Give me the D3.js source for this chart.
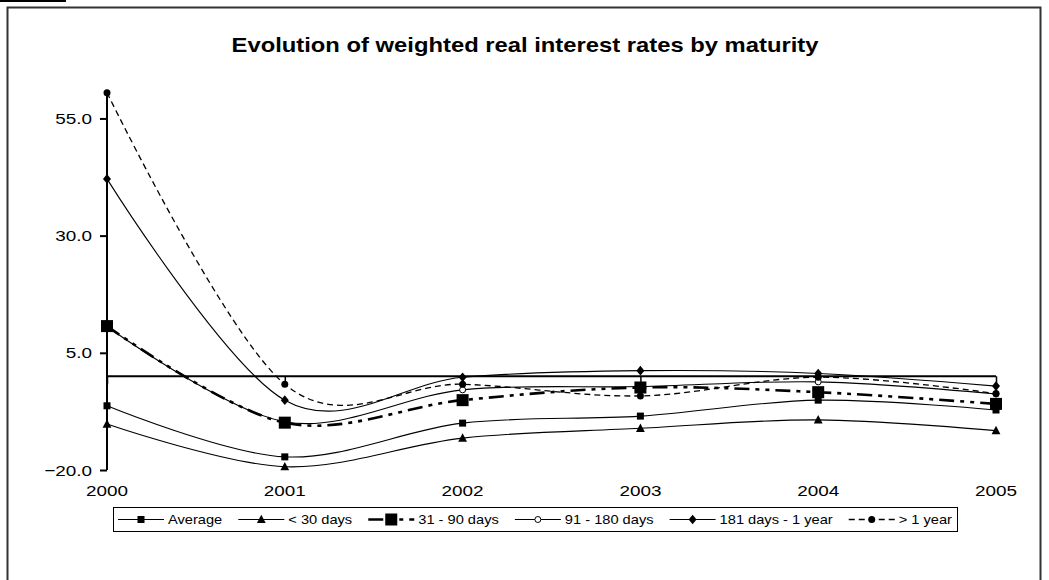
<!DOCTYPE html>
<html>
<head>
<meta charset="utf-8">
<script src="https://cdn.jsdelivr.net/npm/d3@7"></script>
<style>
  html, body { margin: 0; padding: 0; background: #fff; }
  svg { display: block; font-family: "Liberation Sans", Arial, sans-serif; }
</style>
</head>
<body>
<svg id="chart" width="1049" height="580"></svg>
<script>
// Weighted real interest rates (%) by maturity bucket
const years = ["2000", "2001", "2002", "2003", "2004", "2005"];
const average   = [-6.3, -17.2, -10.0, -8.5, -5.1, -7.2];
const under30   = [-10.2, -19.3, -13.2, -11.1, -9.3, -11.6];
const d31to90   = [10.7, -9.9, -5.1, -2.4, -3.4, -5.9];
const d91to180  = [10.6, -9.7, -2.9, -2.2, -1.2, -3.8];
const d181to1y  = [42.1, -5.1, -0.2, 1.2, 0.6, -2.1];
const over1y    = [60.5, -1.7, -1.7, -4.2, -0.2, -3.7];
const yTicks    = [-20, 5, 30, 55];
const seriesNames = ["Average", "< 30 days", "31 - 90 days", "91 - 180 days", "181 days - 1 year", "> 1 year"];

const title = "Evolution of weighted real interest rates by maturity";

const series = [
  { name: seriesNames[0], values: average,  width: 1.1, dash: null,           marker: "square",     size: 7,  z: 1 },
  { name: seriesNames[1], values: under30,  width: 1.1, dash: null,           marker: "triangle",   size: 8,  z: 1 },
  { name: seriesNames[2], values: d31to90,  width: 2.6, dash: "15,6,4,6,4,6", marker: "square",     size: 12, z: 2 },
  { name: seriesNames[3], values: d91to180, width: 1.1, dash: null,           marker: "circleOpen", size: 7,  z: 0 },
  { name: seriesNames[4], values: d181to1y, width: 1.1, dash: null,           marker: "diamond",    size: 8,  z: 1 },
  { name: seriesNames[5], values: over1y,   width: 1.3, dash: "6,4",          marker: "circle",     size: 7,  z: 1 }
];

// text is drawn slightly wide, matching the stretched typography of the chart
const STRETCH = 1.22;
function label(parent, x, y, str, size, anchor, weight) {
  return parent.append("text")
    .attr("transform", `translate(${x},${y}) scale(${STRETCH},1)`)
    .attr("text-anchor", anchor || "start")
    .attr("font-size", size)
    .attr("font-weight", weight || "normal")
    .attr("fill", "#000")
    .text(str);
}

const svg = d3.select("#chart");

// outer frame
svg.append("rect").attr("x", 0).attr("y", 0).attr("width", 66).attr("height", 2).attr("fill", "#000");
svg.append("rect").attr("x", 7.5).attr("y", 7.5).attr("width", 1033).attr("height", 600)
  .attr("fill", "none").attr("stroke", "#333").attr("stroke-width", 2);

label(svg, 525, 52, title, 19.5, "middle", "bold");

const x = d3.scalePoint().domain(years).range([107, 996]);
const y = d3.scaleLinear().domain([-20, 60]).range([470, 95]);

// value axis
const yAxis = d3.axisLeft(y).tickValues(yTicks).tickSize(7).tickFormat("");
const gy = svg.append("g").attr("transform", `translate(${x("2000")},0)`).call(yAxis);
gy.select(".domain").attr("stroke", "#000").attr("stroke-width", 2).attr("d", `M0,${y(60)}V${y(-20)}`);
gy.selectAll(".tick line").attr("stroke", "#000").attr("stroke-width", 2);
yTicks.forEach(t => label(svg, 92, y(t) + 5.5, d3.format(".1f")(t), 15.5, "end"));

// category axis crossing at zero
const xAxis = d3.axisBottom(x).tickSize(8).tickFormat("");
const gx = svg.append("g").attr("transform", `translate(0,${y(0)})`).call(xAxis);
gx.select(".domain").attr("stroke", "#000").attr("stroke-width", 2).attr("d", `M${x("2000")},0H${x("2005")}`);
gx.selectAll(".tick line").attr("stroke", "#000").attr("stroke-width", 1.5);

// category labels along the bottom of the plot
years.forEach(d => label(svg, x(d), 496, d, 15.5, "middle"));

const line = d3.line()
  .x((d, i) => x(years[i]))
  .y(d => y(d))
  .curve(d3.curveCardinal.tension(0));

function drawMarker(g, type, cx, cy, s) {
  if (type === "square") {
    g.append("rect").attr("x", cx - s / 2).attr("y", cy - s / 2).attr("width", s).attr("height", s).attr("fill", "#000");
  } else if (type === "triangle") {
    g.append("path").attr("d", `M${cx},${cy - s * 0.6}L${cx + s * 0.55},${cy + s * 0.45}L${cx - s * 0.55},${cy + s * 0.45}Z`).attr("fill", "#000");
  } else if (type === "diamond") {
    g.append("path").attr("d", `M${cx},${cy - s * 0.6}L${cx + s * 0.5},${cy}L${cx},${cy + s * 0.6}L${cx - s * 0.5},${cy}Z`).attr("fill", "#000");
  } else if (type === "circle") {
    g.append("circle").attr("cx", cx).attr("cy", cy).attr("r", s / 2).attr("fill", "#000");
  } else if (type === "circleOpen") {
    g.append("circle").attr("cx", cx).attr("cy", cy).attr("r", s / 2 - 0.5).attr("fill", "#fff").attr("stroke", "#000").attr("stroke-width", 1);
  }
}

const plot = svg.append("g");
series.forEach(s => {
  plot.append("path").datum(s.values).attr("d", line).attr("fill", "none")
    .attr("stroke", "#000").attr("stroke-width", s.width)
    .attr("stroke-dasharray", s.dash);
});
// markers: the open circles sit underneath, the large squares on top
series.slice().sort((a, b) => a.z - b.z).forEach(s => {
  const g = plot.append("g");
  s.values.forEach((v, i) => drawMarker(g, s.marker, x(years[i]), y(v), s.size));
});

// legend
const lg = svg.append("g");
const box = { x: 113, y: 507, w: 844, h: 24 };
lg.append("rect").attr("x", box.x + 0.5).attr("y", box.y + 0.5).attr("width", box.w).attr("height", box.h)
  .attr("fill", "#fff").attr("stroke", "#000").attr("stroke-width", 1);
const sampleW = 46;
const ly = box.y + box.h / 2 + 0.5;
const items = series.map(s => {
  const g = lg.append("g");
  g.append("line").attr("x1", 0).attr("x2", sampleW).attr("y1", ly).attr("y2", ly)
    .attr("stroke", "#000").attr("stroke-width", s.width).attr("stroke-dasharray", s.dash);
  drawMarker(g, s.marker, sampleW / 2, ly, s.size);
  const t = label(g, sampleW + 4, ly + 4.5, s.name, 12);
  return { g, w: sampleW + 4 + t.node().getComputedTextLength() * STRETCH };
});
const used = d3.sum(items, d => d.w);
const gap = (box.w - 10 - used) / (items.length - 1);
let lx = box.x + 5;
items.forEach(it => {
  it.g.attr("transform", `translate(${lx},0)`);
  lx += it.w + gap;
});
</script>
</body>
</html>
